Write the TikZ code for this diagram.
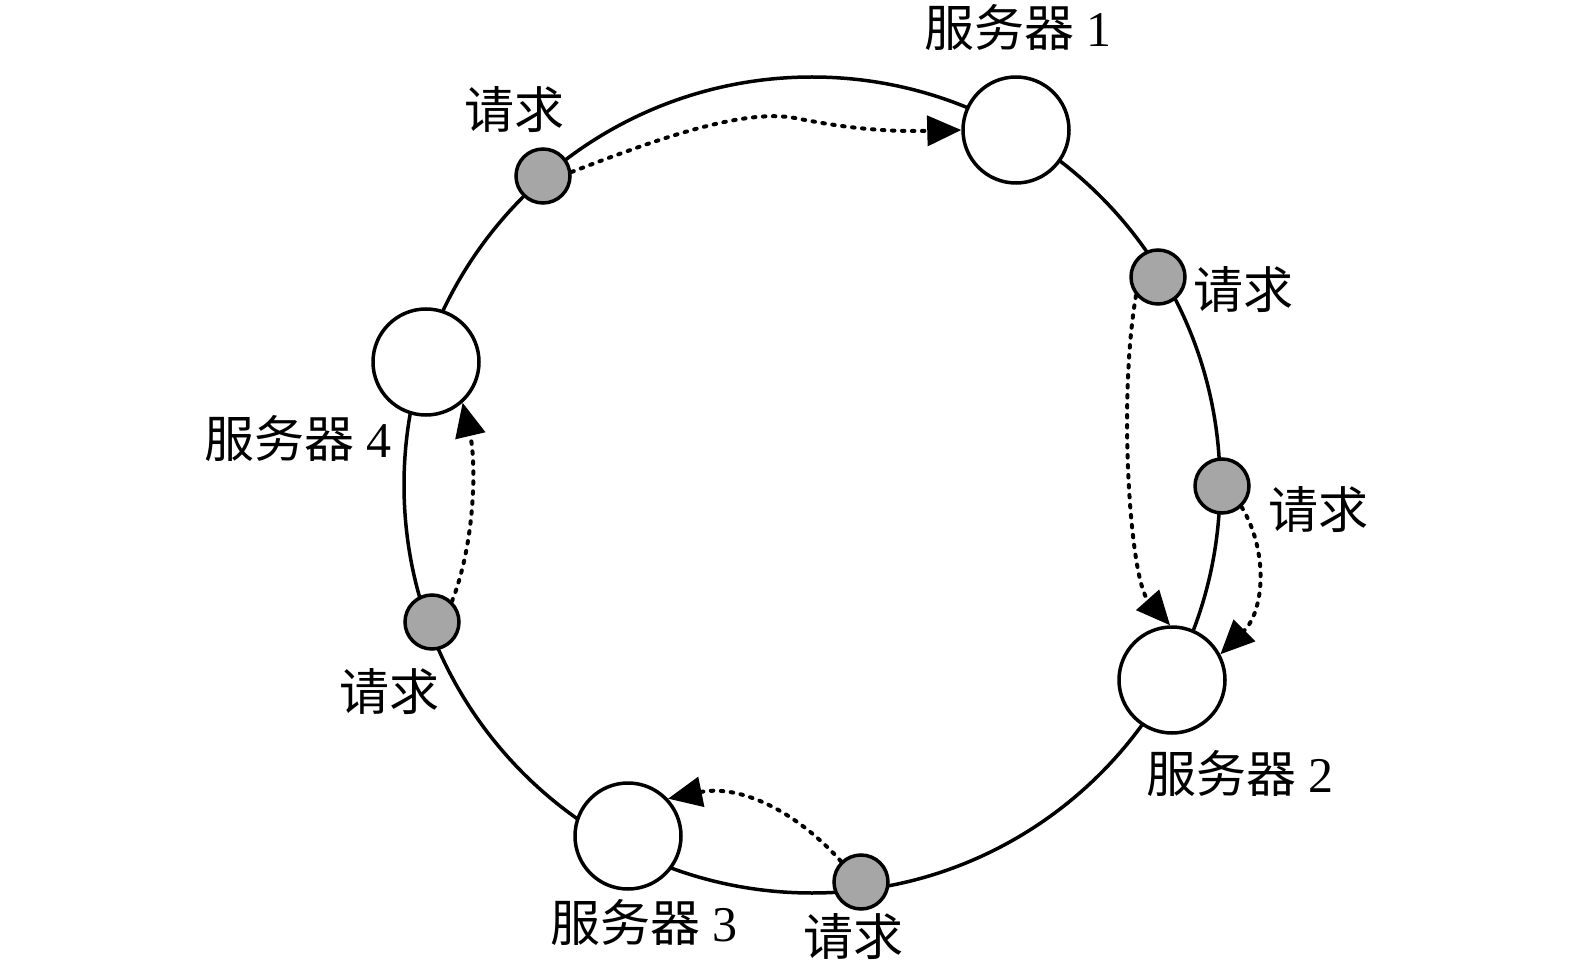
\documentclass[tikz,border=0pt]{standalone}
\usepackage{fontspec}
\setmainfont{Liberation Serif}
\newfontfamily\cjk{Noto Sans CJK SC}
\usetikzlibrary{arrows.meta}
\definecolor{reqgray}{RGB}{166,166,166}
\begin{document}
\begin{tikzpicture}[x=1pt,y=-1pt,
  ring/.style={line width=3.5pt},
  server/.style={circle,draw,line width=3.5pt,fill=white,minimum size=106pt,inner sep=0pt},
  req/.style={circle,draw,line width=3.5pt,fill=reqgray,minimum size=54pt,inner sep=0pt},
  lbl/.style={font=\fontsize{50}{50}\selectfont,inner sep=0pt},
  flow/.style={line width=4pt,dash pattern=on 2.5pt off 7.5pt,line cap=round,-{Triangle[length=34pt,width=30pt]}}
]
\useasboundingbox (0,0) rectangle (1575,976);
\coordinate (rc) at (812,485);
\draw[ring] (rc) circle[radius=408];

\node[server] (s1) at (1016,130) {};
\node[server] (s2) at (1172,680) {};
\node[server] (s3) at (628,836) {};
\node[server] (s4) at (426,362) {};

\node[req] (r1) at (543,176) {};
\node[req] (r2) at (1158,277) {};
\node[req] (r3) at (1222,486) {};
\node[req] (r4) at (861,882) {};
\node[req] (r5) at (432,622) {};

\node[lbl] (l1) at (1018,28) {{\cjk 服务器} 1};
\node[lbl] (l2) at (1240,773) {{\cjk 服务器} 2};
\node[lbl] (l3) at (644,922) {{\cjk 服务器} 3};
\node[lbl] (l4) at (298,438) {{\cjk 服务器} 4};
\node[lbl] (q1) at (514,110) {\cjk 请求};
\node[lbl] (q2) at (1243,290) {\cjk 请求};
\node[lbl] (q3) at (1318,510) {\cjk 请求};
\node[lbl] (q4) at (853,937) {\cjk 请求};
\node[lbl] (q5) at (389,692) {\cjk 请求};

\draw[flow] (r1.8) .. controls (650,142) and (740,108) .. (795,118) .. controls (840,127) and (880,132) .. (s1.west);
\draw[flow] (r2.220) .. controls (1118,400) and (1130,580) .. (s2.92);
\draw[flow] (r3.-47) .. controls (1268,550) and (1265,610) .. (s2.28);
\draw[flow] (r4.134) .. controls (790,805) and (735,785) .. (s3.43);
\draw[flow] (r5.46) .. controls (476,540) and (476,460) .. (s4.-48);
\end{tikzpicture}
\end{document}
